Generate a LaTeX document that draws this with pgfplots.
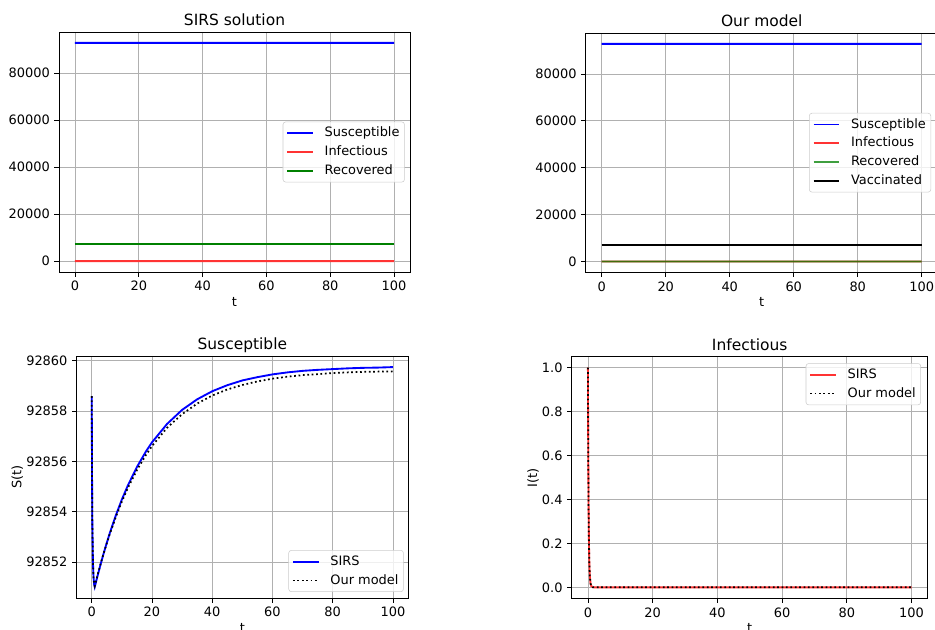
\documentclass[border=0pt]{standalone}
\usepackage{fontspec}
\setmainfont{DejaVu Sans}
\usepackage{pgfplots}
\pgfplotsset{compat=1.18}
\definecolor{mplred}{rgb}{1,0.2,0.2}
\definecolor{mplgreen}{rgb}{0,0.5,0}
\definecolor{mplgrid}{rgb}{0.69,0.69,0.69}
\pgfplotsset{
  legend image code/.code={\draw[#1] (0cm,0cm) -- (0.68cm,0cm); \path (0.92cm,0cm);},
  mpl/.style={
    scale only axis,
    anchor=south west,
    xmin=-5, xmax=105,
    xtick={0,20,...,100},
    grid=major,
    grid style={color=mplgrid, line width=0.6pt},
    axis line style={line width=0.6pt},
    tick style={black, line width=0.6pt},
    tick align=outside,
    major tick length=3.4pt,
    xtick pos=bottom, ytick pos=left,
    tick label style={font=\fontsize{9.7}{11}\selectfont},
    label style={font=\fontsize{9.7}{11}\selectfont},
    xlabel style={yshift=2pt},
    ylabel style={yshift=-4.5pt},
    title style={font=\fontsize{11.6}{13}\selectfont, anchor=base, yshift=-1.3pt},
    /pgf/number format/assume math mode=true,
    /pgf/number format/1000 sep={},
    scaled ticks=false,
    legend cell align=left,
    legend style={font=\fontsize{9.7}{11}\selectfont, draw=black!20, rounded corners=2pt,
      fill=white, fill opacity=0.8, text opacity=1, inner sep=2.5pt, row sep=2.2pt,
      nodes={inner sep=1.2pt, text height=7.5pt, text depth=2pt}},
    every axis plot/.append style={line width=1.4pt},
    xlabel={t},
  }
}
\begin{document}
\begin{tikzpicture}
\path[use as bounding box] (0,0) rectangle (701.25pt,471.75pt);

% Top left: SIRS solution
\begin{axis}[mpl, at={(44.25pt,267.75pt)}, width=263.25pt, height=180pt,
  ymin=-4643, ymax=97503, ytick={0,20000,40000,60000,80000},
  title={SIRS solution},
  legend style={at={(0.985,0.5)}, anchor=east}]
\addplot[blue] coordinates {(0,92858.6) (1,92851.0) (10,92854.5) (20,92856.8) (40,92858.8) (60,92859.5) (100,92859.75)};
\addlegendentry{Susceptible}
\addplot[mplred] coordinates {(0,1.0) (1,0.007) (2,0) (100,0)};
\addlegendentry{Infectious}
\addplot[mplgreen] coordinates {(0,7140) (20,7140) (40,7140) (60,7140) (100,7140)};
\addlegendentry{Recovered}
\end{axis}

% Top right: Our model
\begin{axis}[mpl, at={(439.3pt,267.5pt)}, width=264pt, height=179.5pt,
  ymin=-4643, ymax=97503, ytick={0,20000,40000,60000,80000},
  title={Our model},
  legend style={at={(0.981,0.5)}, anchor=east}]
\addplot[blue] coordinates {(0,92858.6) (1,92851.1) (10,92854.4) (20,92856.6) (40,92858.6) (60,92859.3) (100,92859.6)};
\addlegendentry{Susceptible}
\addplot[mplred] coordinates {(0,1.0) (1,0.007) (2,0) (100,0)};
\addlegendentry{Infectious}
\addplot[mplgreen, opacity=0.75] coordinates {(0,0) (1,5) (10,3) (20,2) (40,1) (100,0.5)};
\addlegendentry{Recovered}
\addplot[black] coordinates {(0,7140) (20,7140) (40,7140) (60,7140) (100,7140)};
\addlegendentry{Vaccinated}
\end{axis}

% Bottom left: Susceptible
\begin{axis}[mpl, at={(57.5pt,23.25pt)}, width=248.5pt, height=181.5pt,
  ymin=92850.58, ymax=92860.19, ytick={92852,92854,92856,92858,92860},
  title={Susceptible}, ylabel={S(t)},
  legend style={at={(0.987,0.025)}, anchor=south east}]
\addplot[blue] coordinates {
(0,92858.60) (0.1,92855.5) (0.2,92853.6) (0.4,92852.0) (0.6,92851.4) (0.8,92851.12)
(1,92851.02) (2,92851.49) (3,92851.94) (4,92852.37) (5,92852.77) (6,92853.16)
(8,92853.86) (10,92854.49) (12,92855.05) (15,92855.78) (18,92856.40) (20,92856.76)
(25,92857.49) (30,92858.05) (35,92858.47) (40,92858.79) (45,92859.03) (50,92859.22)
(55,92859.35) (60,92859.46) (65,92859.54) (70,92859.60) (75,92859.64) (80,92859.67)
(85,92859.70) (90,92859.72) (95,92859.73) (100,92859.75)};
\addlegendentry{SIRS}
\addplot[black, line width=1.3pt, dash pattern=on 1.3pt off 2pt] coordinates {
(0,92858.60) (0.1,92855.5) (0.2,92853.6) (0.4,92852.0) (0.6,92851.4) (0.8,92851.15)
(1,92851.06) (2,92851.52) (3,92851.96) (4,92852.37) (5,92852.75) (6,92853.12)
(8,92853.80) (10,92854.41) (12,92854.95) (15,92855.66) (18,92856.26) (20,92856.61)
(25,92857.34) (30,92857.88) (35,92858.30) (40,92858.62) (45,92858.86) (50,92859.04)
(55,92859.18) (60,92859.29) (65,92859.37) (70,92859.43) (75,92859.47) (80,92859.51)
(85,92859.54) (90,92859.56) (95,92859.57) (100,92859.58)};
\addlegendentry{Our model}
\end{axis}

% Bottom right: Infectious
\begin{axis}[mpl, at={(428.8pt,23pt)}, width=267pt, height=181.2pt,
  ymin=-0.05, ymax=1.05, ytick={0,0.2,0.4,0.6,0.8,1.0},
  yticklabel style={/pgf/number format/fixed, /pgf/number format/fixed zerofill, /pgf/number format/precision=1},
  title={Infectious}, ylabel={I(t)},
  legend style={at={(0.981,0.973)}, anchor=north east}]
\addplot[mplred] coordinates {
(0,1.0) (0.1,0.607) (0.2,0.368) (0.3,0.223) (0.4,0.135) (0.5,0.082) (0.6,0.050)
(0.8,0.018) (1.0,0.0067) (1.5,0.0006) (2,0.00005) (5,0) (100,0)};
\addlegendentry{SIRS}
\addplot[black, line width=1.3pt, dash pattern=on 1.3pt off 2pt] coordinates {
(0,1.0) (0.1,0.607) (0.2,0.368) (0.3,0.223) (0.4,0.135) (0.5,0.082) (0.6,0.050)
(0.8,0.018) (1.0,0.0067) (1.5,0.0006) (2,0.00005) (5,0) (100,0)};
\addlegendentry{Our model}
\end{axis}
\end{tikzpicture}
\end{document}
